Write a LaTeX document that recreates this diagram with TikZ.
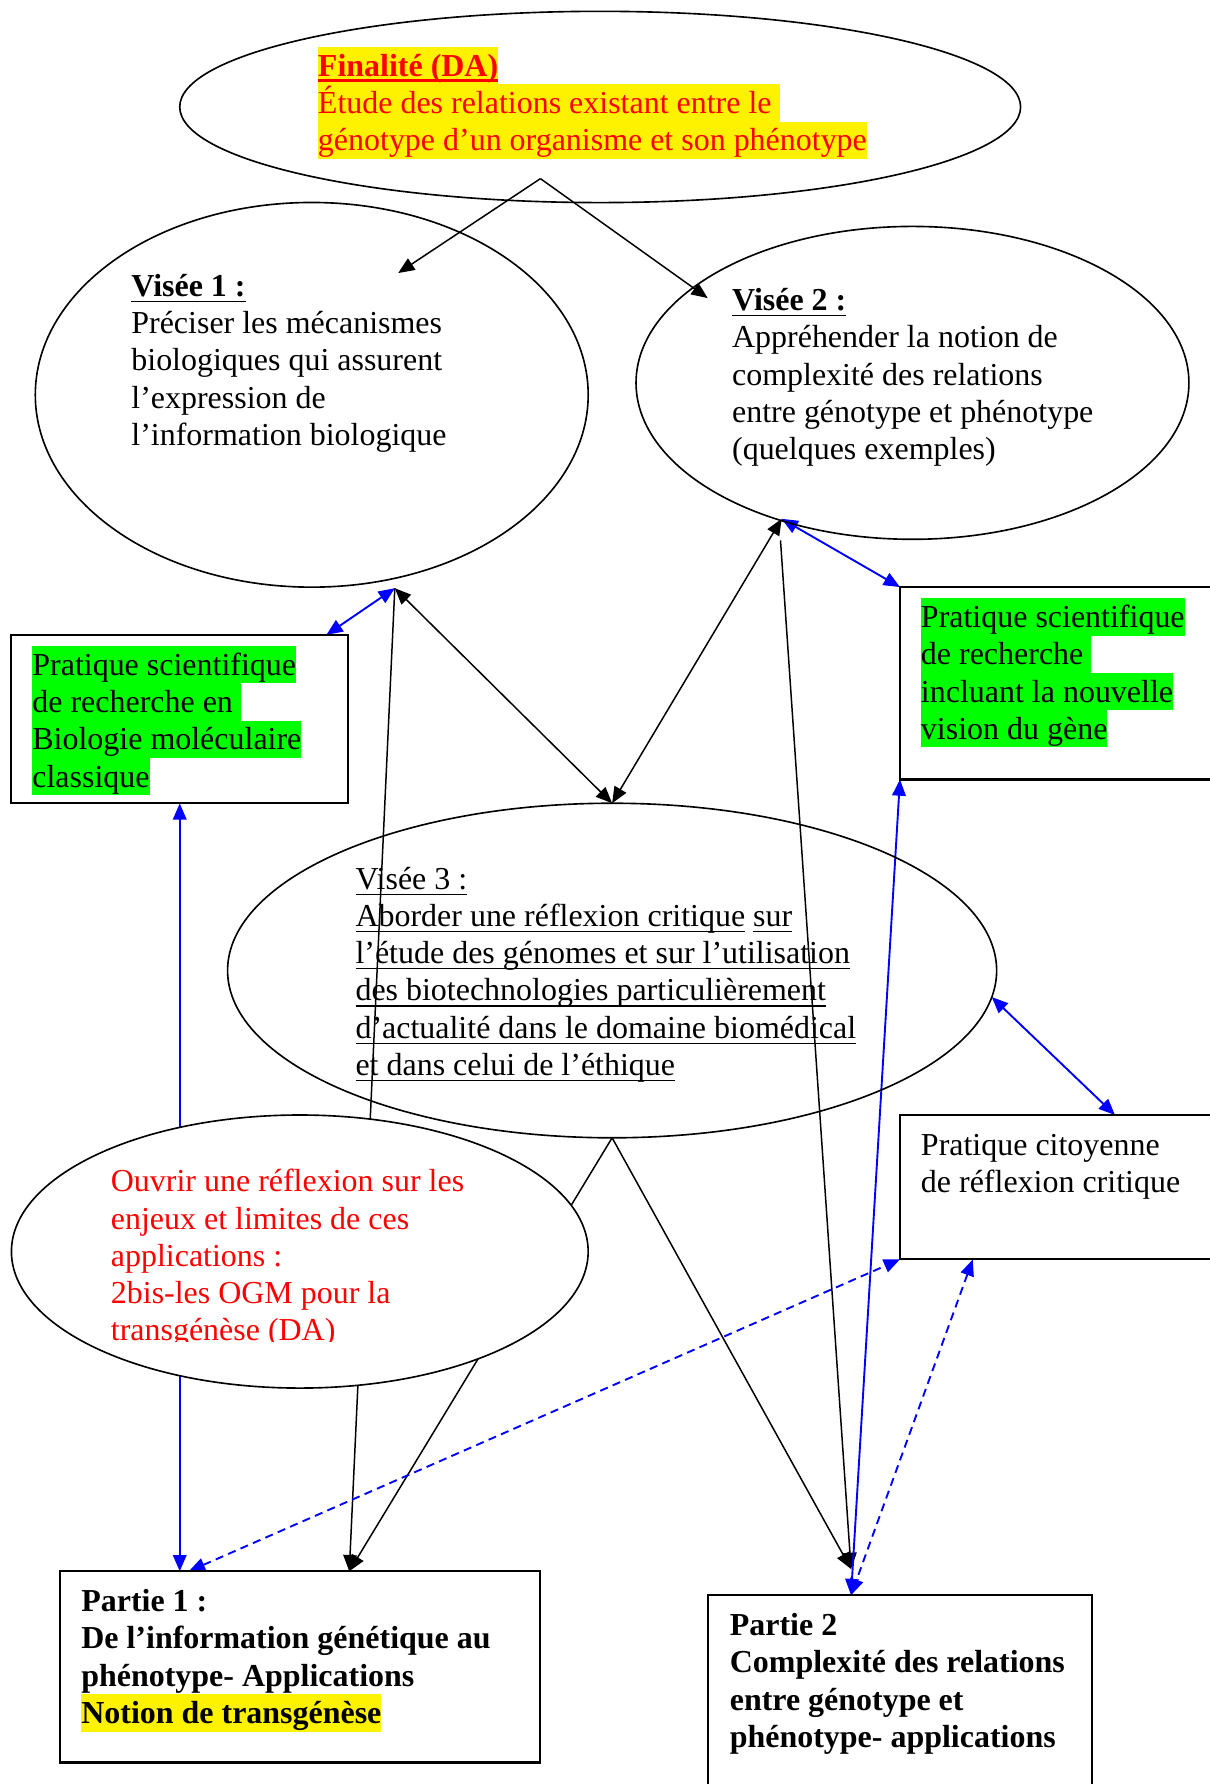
\documentclass[tikz,border=0pt]{standalone}
\usepackage{fontspec}
\setmainfont{Liberation Serif}
\usepackage{tikz}
\usetikzlibrary{shapes.geometric, arrows.meta, backgrounds}
\newcommand{\corTexte}{red}
\newcommand{\corJaune}{yellow}
\newcommand{\corVert}{green}
\newcommand{\corLien}{blue}
\newcommand{\st}{\rule[-3pt]{0pt}{13.75pt}}
\newcommand{\surligne}[2]{{\setlength{\fboxsep}{0pt}\colorbox{#1}{\st #2}}}
\newsavebox{\boiteSoul}
\newcommand{\souligne}[2][0.5pt]{{\sbox{\boiteSoul}{#2}\rlap{\rule[-2.1pt]{\wd\boiteSoul}{#1}}\usebox{\boiteSoul}}}
\begin{document}
\begin{tikzpicture}[x=0.42pt, y=-0.42pt,
    ellipsebox/.style 2 args={ellipse, draw, line width=0.6pt, inner sep=0pt, outer sep=0pt, minimum width=#1, minimum height=#2},
    boite/.style 2 args={rectangle, draw, line width=0.8pt, inner sep=0pt, outer sep=0pt, anchor=north west, minimum width=#1, minimum height=#2},
    texte/.style={anchor=north west, inner sep=0pt, align=left, font=\fontsize{11.8}{13.75}\selectfont},
    lien/.style={line width=0.55pt, -{Triangle[length=6pt,width=5pt]}},
    dlien/.style={line width=0.55pt, {Triangle[length=6pt,width=5pt]}-{Triangle[length=6pt,width=5pt]}},
    tirets/.style={dash pattern=on 3pt off 2pt}]
    \useasboundingbox (0,0) rectangle (1063,1568);

        % finalite
        \node[ellipsebox={310.4pt}{70.6pt}] (fin) at (527.5,94) {};
        \node[texte, text=\corTexte] (txtFin) at (279,41) {\surligne{\corJaune}{\souligne[1.1pt]{\textbf{Finalité (DA)}}}\\
            \surligne{\corJaune}{Étude des relations existant entre le }\\
            \surligne{\corJaune}{génotype d’un organisme et son phénotype}};

        % visee 1
        \node[ellipsebox={204.1pt}{142pt}] (v1) at (274,347) {};
        \node[texte] (txtV1) at (115,234.5) {\st\souligne{\textbf{Visée 1 :}}\\ Préciser les mécanismes\\ biologiques qui assurent\\ l’expression de\\ l’information biologique};

        % visee 2
        \node[ellipsebox={204.1pt}{115.5pt}] (v2) at (802,336.5) {};
        \node[texte] (txtV2) at (643,247) {\st\souligne{\textbf{Visée 2 :}}\\ Appréhender la notion de\\ complexité des relations\\ entre génotype et phénotype\\ (quelques exemples)};

        % pratique biologie moleculaire
        \node[boite={124.3pt}{62.2pt}] (bml) at (10,558) {};
        \node[texte] (txtBml) at (28,567.5) {\surligne{\corVert}{Pratique scientifique}\\
            \surligne{\corVert}{de recherche en }\\
            \surligne{\corVert}{Biologie moléculaire}\\
            \surligne{\corVert}{classique}};

        % pratique nouvelle vision du gene
        \node[boite={122pt}{71pt}] (gen) at (791,516) {};
        \node[texte] (txtGen) at (809,525.5) {\surligne{\corVert}{Pratique scientifique}\\
            \surligne{\corVert}{de recherche }\\
            \surligne{\corVert}{incluant la nouvelle}\\
            \surligne{\corVert}{vision du gène}};

        % visee 3
        \node[ellipsebox={283.9pt}{123.5pt}] (v3) at (538,853) {};
        \node[texte] (txtV3) at (312,755.5) {\st\souligne{Visée 3 :}\\ \souligne{Aborder une réflexion critique} \souligne{sur}\\
            \souligne{l’étude des génomes et sur l’utilisation}\\
            \souligne{des biotechnologies particulièrement}\\
            \souligne{d’actualité dans le domaine biomédical}\\
            \souligne{et dans celui de l’éthique}};

        % pratique citoyenne
        \node[boite={122pt}{53.3pt}] (cit) at (791,980) {};
        \node[texte] (txtCit) at (809,989.5) {\st Pratique citoyenne\\ de réflexion critique};

        % ouvrir une reflexion
        \node[ellipsebox={212.9pt}{100.8pt}, fill=white] (ouv) at (263.5,1100) {};
        \begin{scope}
            \clip (90,1015) rectangle (520,1179);
            \node[texte, text=\corTexte] (txtOuv) at (97,1021.5) {\st Ouvrir une réflexion sur les\\ enjeux et limites de ces\\ applications :\\ 2bis-les OGM pour la\\ transgénèse (DA)};
        \end{scope}

        % partie 1
        \node[boite={177.2pt}{70.6pt}] (p1) at (53,1381) {};
        \node[texte, font=\fontsize{11.8}{13.75}\selectfont\bfseries] (txtP1) at (71,1390.5) {\st Partie 1 :\\ De l’information génétique au\\ phénotype- Applications\\ \surligne{\corJaune}{Notion de transgénèse}};

        % partie 2
        \node[boite={142pt}{84pt}] (p2) at (622,1402) {};
        \node[texte, font=\fontsize{11.8}{13.75}\selectfont\bfseries] (txtP2) at (641,1411.5) {\st Partie 2\\ Complexité des relations\\ entre génotype et\\ phénotype- applications};

        \coordinate (apex) at (475,157);
        \coordinate (t1) at (350,240);
        \coordinate (t2) at (622,262);
        \coordinate (j1) at (347,517);
        \coordinate (j2) at (687,456);
        \coordinate (s2) at (686,475);
        \coordinate (t3) at (748,1379);
        \coordinate (t4) at (307,1381);
        \coordinate (c1) at (980,980);
        \coordinate (c2) at (855,1107);
        \coordinate (d1) at (166,1381);

        \begin{scope}[on background layer]
            % liens noirs
            \draw[lien] (apex) -- (t1);
            \draw[lien] (apex) -- (t2);
            \draw[dlien] (j1) -- (v3.north);
            \draw[dlien] (v3.north) -- (j2);
            \draw[lien] (j1) -- (t4);
            \draw[lien] (s2) -- (t3);
            \draw[lien] (v3.south) -- (t4);
            \draw[lien] (v3.south) -- (t3);

            % liens bleus
            \draw[dlien, \corLien, line width=0.7pt] ([xshift=-8pt]bml.north east) -- (j1);
            \draw[dlien, \corLien, line width=0.7pt] (j2) -- (gen.north west);
            \draw[dlien, \corLien, line width=0.7pt] (bml.south |- p1.north) -- (bml.south);
            \draw[dlien, \corLien, line width=0.7pt] (v3.-4) -- (c1);
            \draw[dlien, \corLien, line width=0.7pt] (t3 |- p2.north) -- (gen.south west);
            \draw[dlien, \corLien, line width=0.7pt, tirets] (d1) -- (cit.south west);
            \draw[dlien, \corLien, line width=0.7pt, tirets] (c2) -- (t3 |- p2.north);
        \end{scope}
\end{tikzpicture}
\end{document}
